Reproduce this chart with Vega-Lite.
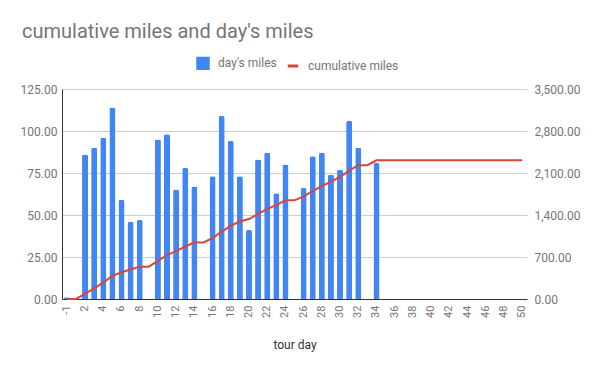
{
  "$schema": "https://vega.github.io/schema/vega-lite/v6.json",
  "width": 465,
  "height": 210,
  "autosize": {"type": "none"},
  "padding": {"left": 62, "top": 89, "right": 73, "bottom": 72},
  "background": "white",
  "config": {
    "view": {"stroke": null},
    "font": "Roboto",
    "axis": {"labelFont": "Roboto", "titleFont": "Roboto", "labelColor": "#757575"},
    "legend": {"labelFont": "Roboto"}
  },
  "title": {
    "text": "cumulative miles and day's miles",
    "anchor": "start",
    "frame": "group",
    "dx": -40,
    "fontSize": 20,
    "fontWeight": "normal",
    "color": "#757575",
    "font": "Roboto",
    "offset": 14
  },
  "data": {
    "values": [
      {"day": -1, "miles": 1, "cumulative": 1},
      {"day": 1, "miles": null, "cumulative": 1},
      {"day": 2, "miles": 86, "cumulative": 87},
      {"day": 3, "miles": 90, "cumulative": 177},
      {"day": 4, "miles": 96, "cumulative": 273},
      {"day": 5, "miles": 114, "cumulative": 387},
      {"day": 6, "miles": 59, "cumulative": 446},
      {"day": 7, "miles": 46, "cumulative": 492},
      {"day": 8, "miles": 47, "cumulative": 539},
      {"day": 9, "miles": null, "cumulative": 539},
      {"day": 10, "miles": 95, "cumulative": 634},
      {"day": 11, "miles": 98, "cumulative": 732},
      {"day": 12, "miles": 65, "cumulative": 797},
      {"day": 13, "miles": 78, "cumulative": 875},
      {"day": 14, "miles": 67, "cumulative": 942},
      {"day": 15, "miles": null, "cumulative": 942},
      {"day": 16, "miles": 73, "cumulative": 1015},
      {"day": 17, "miles": 109, "cumulative": 1124},
      {"day": 18, "miles": 94, "cumulative": 1218},
      {"day": 19, "miles": 73, "cumulative": 1291},
      {"day": 20, "miles": 41, "cumulative": 1332},
      {"day": 21, "miles": 83, "cumulative": 1415},
      {"day": 22, "miles": 87, "cumulative": 1502},
      {"day": 23, "miles": 63, "cumulative": 1565},
      {"day": 24, "miles": 80, "cumulative": 1645},
      {"day": 25, "miles": null, "cumulative": 1645},
      {"day": 26, "miles": 66, "cumulative": 1711},
      {"day": 27, "miles": 85, "cumulative": 1796},
      {"day": 28, "miles": 87, "cumulative": 1883},
      {"day": 29, "miles": 74, "cumulative": 1957},
      {"day": 30, "miles": 77, "cumulative": 2034},
      {"day": 31, "miles": 106, "cumulative": 2140},
      {"day": 32, "miles": 90, "cumulative": 2230},
      {"day": 33, "miles": null, "cumulative": 2230},
      {"day": 34, "miles": 81, "cumulative": 2311},
      {"day": 35, "miles": null, "cumulative": 2311},
      {"day": 36, "miles": null, "cumulative": 2311},
      {"day": 37, "miles": null, "cumulative": 2311},
      {"day": 38, "miles": null, "cumulative": 2311},
      {"day": 39, "miles": null, "cumulative": 2311},
      {"day": 40, "miles": null, "cumulative": 2311},
      {"day": 41, "miles": null, "cumulative": 2311},
      {"day": 42, "miles": null, "cumulative": 2311},
      {"day": 43, "miles": null, "cumulative": 2311},
      {"day": 44, "miles": null, "cumulative": 2311},
      {"day": 45, "miles": null, "cumulative": 2311},
      {"day": 46, "miles": null, "cumulative": 2311},
      {"day": 47, "miles": null, "cumulative": 2311},
      {"day": 48, "miles": null, "cumulative": 2311},
      {"day": 49, "miles": null, "cumulative": 2311},
      {"day": 50, "miles": null, "cumulative": 2311}
    ]
  },
  "encoding": {
    "x": {
      "field": "day",
      "type": "ordinal",
      "scale": {"paddingInner": 0.34, "paddingOuter": 0.2},
      "axis": {
        "values": [-1, 2, 4, 6, 8, 10, 12, 14, 16, 18, 20, 22, 24, 26, 28, 30, 32, 34, 36, 38, 40, 42, 44, 46, 48, 50],
        "labelAngle": -90,
        "labelFontSize": 11,
        "labelPadding": 6,
        "ticks": false,
        "grid": false,
        "domainColor": "#333333",
        "title": "tour day",
        "titleFontSize": 12,
        "titleFontWeight": "normal",
        "titleColor": "#333333",
        "titlePadding": 22
      }
    }
  },
  "layer": [
    {
      "mark": {"type": "bar", "cornerRadiusTopLeft": 2, "cornerRadiusTopRight": 2},
      "encoding": {
        "y": {
          "field": "miles",
          "type": "quantitative",
          "scale": {"domain": [0, 125], "nice": false},
          "axis": {
            "title": null,
            "values": [0, 25, 50, 75, 100, 125],
            "format": ".2f",
            "grid": true,
            "gridColor": "#cccccc",
            "domainColor": "#333333",
            "ticks": false,
            "labelPadding": 5,
            "labelFontSize": 12
          }
        },
        "color": {
          "datum": "day's miles",
          "type": "nominal",
          "scale": {"domain": ["day's miles", "cumulative miles"], "range": ["#4285F4", "#DB4437"]},
          "legend": {
            "title": null,
            "orient": "none",
            "direction": "horizontal",
            "legendX": 134,
            "legendY": -33,
            "labelFontSize": 12,
            "labelColor": "#757575",
            "symbolSize": 110,
            "columnPadding": 4,
            "labelOffset": 8,
            "encode": {
              "symbols": {
                "update": {
                  "shape": {"signal": "datum.value === 'cumulative miles' ? 'stroke' : 'square'"},
                  "fill": {"signal": "datum.value === 'cumulative miles' ? 'transparent' : '#4285F4'"},
                  "stroke": {"signal": "datum.value === 'cumulative miles' ? '#DB4437' : 'transparent'"},
                  "strokeWidth": {"value": 3},
                  "opacity": {"value": 1}
                }
              }
            }
          }
        }
      }
    },
    {
      "mark": {"type": "line", "strokeWidth": 2},
      "encoding": {
        "y": {
          "field": "cumulative",
          "type": "quantitative",
          "scale": {"domain": [0, 3500], "nice": false},
          "axis": {
            "title": null,
            "orient": "right",
            "values": [0, 700, 1400, 2100, 2800, 3500],
            "format": ",.2f",
            "grid": false,
            "domain": false,
            "ticks": false,
            "labelPadding": 7,
            "labelFontSize": 12
          }
        },
        "color": {"datum": "cumulative miles", "type": "nominal"}
      }
    }
  ],
  "resolve": {"scale": {"y": "independent"}}
}
